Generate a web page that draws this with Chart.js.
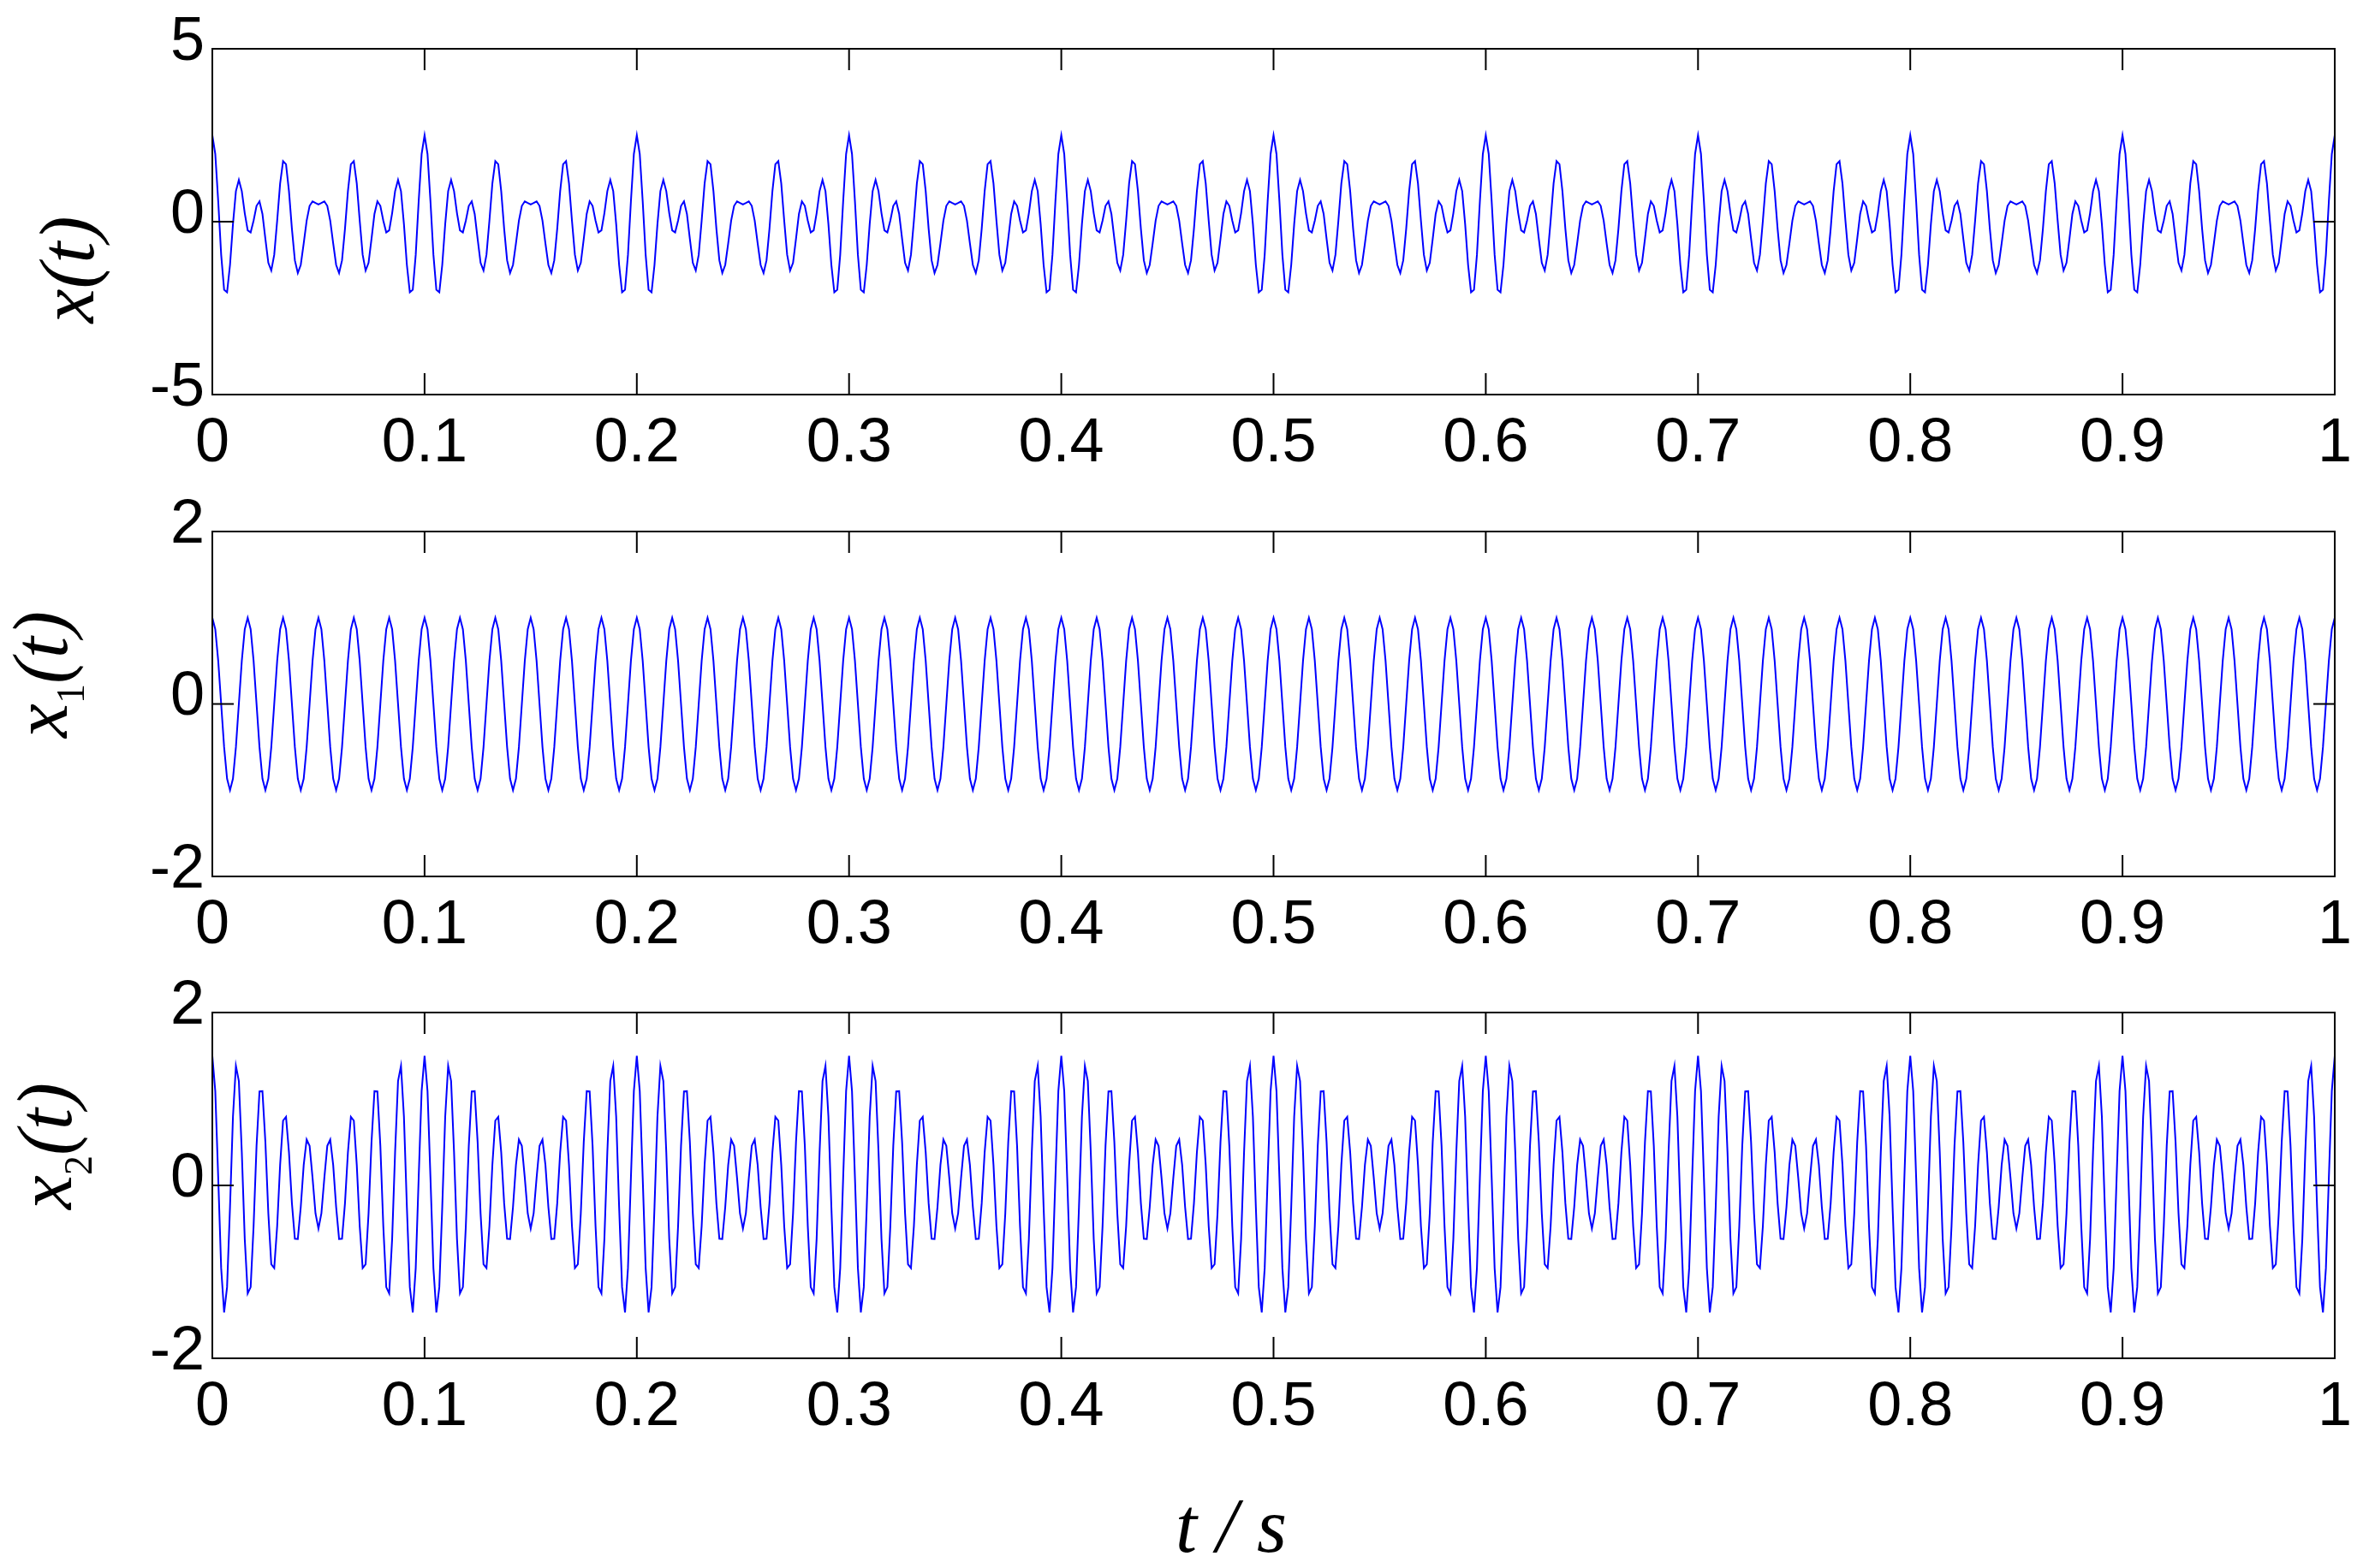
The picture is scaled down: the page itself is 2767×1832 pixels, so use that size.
<!DOCTYPE html>
<html>
<head>
<meta charset="utf-8">
<script src="https://cdn.jsdelivr.net/npm/chart.js@4.4.1/dist/chart.umd.min.js"></script>
<style>
  html, body { margin: 0; padding: 0; background: #fff; }
  body { width: 2767px; height: 1832px; position: relative; overflow: hidden; }
  canvas { position: absolute; left: 0; }
</style>
</head>
<body>
<canvas id="c0"></canvas>
<canvas id="c1"></canvas>
<canvas id="c2"></canvas>
<script>
// samples, 720 samples per second, t = 0 ... 1 s
const FS = 720;

const x = [
  2.5,1.956,0.587,-0.957,-1.97,-2.043,-1.25,-0.072,0.883,1.207,0.883,0.246,-0.25,-0.311,0.03,0.457,0.587,0.224,-0.5,-1.19,-1.413,-0.957,0.03,1.103,1.75,1.66,0.883,-0.207,-1.117,-1.486,-1.25,-0.629,0.03,0.457,0.587,0.542,
  0.5,0.542,0.587,0.457,0.03,-0.629,-1.25,-1.486,-1.117,-0.207,0.883,1.66,1.75,1.103,0.03,-0.957,-1.413,-1.19,-0.5,0.224,0.587,0.457,0.03,-0.311,-0.25,0.246,0.883,1.207,0.883,-0.072,-1.25,-2.043,-1.97,-0.957,0.587,1.956,
  2.5,1.956,0.587,-0.957,-1.97,-2.043,-1.25,-0.072,0.883,1.207,0.883,0.246,-0.25,-0.311,0.03,0.457,0.587,0.224,-0.5,-1.19,-1.413,-0.957,0.03,1.103,1.75,1.66,0.883,-0.207,-1.117,-1.486,-1.25,-0.629,0.03,0.457,0.587,0.542,
  0.5,0.542,0.587,0.457,0.03,-0.629,-1.25,-1.486,-1.117,-0.207,0.883,1.66,1.75,1.103,0.03,-0.957,-1.413,-1.19,-0.5,0.224,0.587,0.457,0.03,-0.311,-0.25,0.246,0.883,1.207,0.883,-0.072,-1.25,-2.043,-1.97,-0.957,0.587,1.956,
  2.5,1.956,0.587,-0.957,-1.97,-2.043,-1.25,-0.072,0.883,1.207,0.883,0.246,-0.25,-0.311,0.03,0.457,0.587,0.224,-0.5,-1.19,-1.413,-0.957,0.03,1.103,1.75,1.66,0.883,-0.207,-1.117,-1.486,-1.25,-0.629,0.03,0.457,0.587,0.542,
  0.5,0.542,0.587,0.457,0.03,-0.629,-1.25,-1.486,-1.117,-0.207,0.883,1.66,1.75,1.103,0.03,-0.957,-1.413,-1.19,-0.5,0.224,0.587,0.457,0.03,-0.311,-0.25,0.246,0.883,1.207,0.883,-0.072,-1.25,-2.043,-1.97,-0.957,0.587,1.956,
  2.5,1.956,0.587,-0.957,-1.97,-2.043,-1.25,-0.072,0.883,1.207,0.883,0.246,-0.25,-0.311,0.03,0.457,0.587,0.224,-0.5,-1.19,-1.413,-0.957,0.03,1.103,1.75,1.66,0.883,-0.207,-1.117,-1.486,-1.25,-0.629,0.03,0.457,0.587,0.542,
  0.5,0.542,0.587,0.457,0.03,-0.629,-1.25,-1.486,-1.117,-0.207,0.883,1.66,1.75,1.103,0.03,-0.957,-1.413,-1.19,-0.5,0.224,0.587,0.457,0.03,-0.311,-0.25,0.246,0.883,1.207,0.883,-0.072,-1.25,-2.043,-1.97,-0.957,0.587,1.956,
  2.5,1.956,0.587,-0.957,-1.97,-2.043,-1.25,-0.072,0.883,1.207,0.883,0.246,-0.25,-0.311,0.03,0.457,0.587,0.224,-0.5,-1.19,-1.413,-0.957,0.03,1.103,1.75,1.66,0.883,-0.207,-1.117,-1.486,-1.25,-0.629,0.03,0.457,0.587,0.542,
  0.5,0.542,0.587,0.457,0.03,-0.629,-1.25,-1.486,-1.117,-0.207,0.883,1.66,1.75,1.103,0.03,-0.957,-1.413,-1.19,-0.5,0.224,0.587,0.457,0.03,-0.311,-0.25,0.246,0.883,1.207,0.883,-0.072,-1.25,-2.043,-1.97,-0.957,0.587,1.956,
  2.5,1.956,0.587,-0.957,-1.97,-2.043,-1.25,-0.072,0.883,1.207,0.883,0.246,-0.25,-0.311,0.03,0.457,0.587,0.224,-0.5,-1.19,-1.413,-0.957,0.03,1.103,1.75,1.66,0.883,-0.207,-1.117,-1.486,-1.25,-0.629,0.03,0.457,0.587,0.542,
  0.5,0.542,0.587,0.457,0.03,-0.629,-1.25,-1.486,-1.117,-0.207,0.883,1.66,1.75,1.103,0.03,-0.957,-1.413,-1.19,-0.5,0.224,0.587,0.457,0.03,-0.311,-0.25,0.246,0.883,1.207,0.883,-0.072,-1.25,-2.043,-1.97,-0.957,0.587,1.956,
  2.5,1.956,0.587,-0.957,-1.97,-2.043,-1.25,-0.072,0.883,1.207,0.883,0.246,-0.25,-0.311,0.03,0.457,0.587,0.224,-0.5,-1.19,-1.413,-0.957,0.03,1.103,1.75,1.66,0.883,-0.207,-1.117,-1.486,-1.25,-0.629,0.03,0.457,0.587,0.542,
  0.5,0.542,0.587,0.457,0.03,-0.629,-1.25,-1.486,-1.117,-0.207,0.883,1.66,1.75,1.103,0.03,-0.957,-1.413,-1.19,-0.5,0.224,0.587,0.457,0.03,-0.311,-0.25,0.246,0.883,1.207,0.883,-0.072,-1.25,-2.043,-1.97,-0.957,0.587,1.956,
  2.5,1.956,0.587,-0.957,-1.97,-2.043,-1.25,-0.072,0.883,1.207,0.883,0.246,-0.25,-0.311,0.03,0.457,0.587,0.224,-0.5,-1.19,-1.413,-0.957,0.03,1.103,1.75,1.66,0.883,-0.207,-1.117,-1.486,-1.25,-0.629,0.03,0.457,0.587,0.542,
  0.5,0.542,0.587,0.457,0.03,-0.629,-1.25,-1.486,-1.117,-0.207,0.883,1.66,1.75,1.103,0.03,-0.957,-1.413,-1.19,-0.5,0.224,0.587,0.457,0.03,-0.311,-0.25,0.246,0.883,1.207,0.883,-0.072,-1.25,-2.043,-1.97,-0.957,0.587,1.956,
  2.5,1.956,0.587,-0.957,-1.97,-2.043,-1.25,-0.072,0.883,1.207,0.883,0.246,-0.25,-0.311,0.03,0.457,0.587,0.224,-0.5,-1.19,-1.413,-0.957,0.03,1.103,1.75,1.66,0.883,-0.207,-1.117,-1.486,-1.25,-0.629,0.03,0.457,0.587,0.542,
  0.5,0.542,0.587,0.457,0.03,-0.629,-1.25,-1.486,-1.117,-0.207,0.883,1.66,1.75,1.103,0.03,-0.957,-1.413,-1.19,-0.5,0.224,0.587,0.457,0.03,-0.311,-0.25,0.246,0.883,1.207,0.883,-0.072,-1.25,-2.043,-1.97,-0.957,0.587,1.956,
  2.5,1.956,0.587,-0.957,-1.97,-2.043,-1.25,-0.072,0.883,1.207,0.883,0.246,-0.25,-0.311,0.03,0.457,0.587,0.224,-0.5,-1.19,-1.413,-0.957,0.03,1.103,1.75,1.66,0.883,-0.207,-1.117,-1.486,-1.25,-0.629,0.03,0.457,0.587,0.542,
  0.5,0.542,0.587,0.457,0.03,-0.629,-1.25,-1.486,-1.117,-0.207,0.883,1.66,1.75,1.103,0.03,-0.957,-1.413,-1.19,-0.5,0.224,0.587,0.457,0.03,-0.311,-0.25,0.246,0.883,1.207,0.883,-0.072,-1.25,-2.043,-1.97,-0.957,0.587,1.956,
  2.5
];

const x1 = [
  1,0.866,0.5,0,-0.5,-0.866,-1,-0.866,-0.5,0,0.5,0.866,1,0.866,0.5,0,-0.5,-0.866,-1,-0.866,-0.5,0,0.5,0.866,1,0.866,0.5,0,-0.5,-0.866,-1,-0.866,-0.5,0,0.5,0.866,
  1,0.866,0.5,0,-0.5,-0.866,-1,-0.866,-0.5,0,0.5,0.866,1,0.866,0.5,0,-0.5,-0.866,-1,-0.866,-0.5,0,0.5,0.866,1,0.866,0.5,0,-0.5,-0.866,-1,-0.866,-0.5,0,0.5,0.866,
  1,0.866,0.5,0,-0.5,-0.866,-1,-0.866,-0.5,0,0.5,0.866,1,0.866,0.5,0,-0.5,-0.866,-1,-0.866,-0.5,0,0.5,0.866,1,0.866,0.5,0,-0.5,-0.866,-1,-0.866,-0.5,0,0.5,0.866,
  1,0.866,0.5,0,-0.5,-0.866,-1,-0.866,-0.5,0,0.5,0.866,1,0.866,0.5,0,-0.5,-0.866,-1,-0.866,-0.5,0,0.5,0.866,1,0.866,0.5,0,-0.5,-0.866,-1,-0.866,-0.5,0,0.5,0.866,
  1,0.866,0.5,0,-0.5,-0.866,-1,-0.866,-0.5,0,0.5,0.866,1,0.866,0.5,0,-0.5,-0.866,-1,-0.866,-0.5,0,0.5,0.866,1,0.866,0.5,0,-0.5,-0.866,-1,-0.866,-0.5,0,0.5,0.866,
  1,0.866,0.5,0,-0.5,-0.866,-1,-0.866,-0.5,0,0.5,0.866,1,0.866,0.5,0,-0.5,-0.866,-1,-0.866,-0.5,0,0.5,0.866,1,0.866,0.5,0,-0.5,-0.866,-1,-0.866,-0.5,0,0.5,0.866,
  1,0.866,0.5,0,-0.5,-0.866,-1,-0.866,-0.5,0,0.5,0.866,1,0.866,0.5,0,-0.5,-0.866,-1,-0.866,-0.5,0,0.5,0.866,1,0.866,0.5,0,-0.5,-0.866,-1,-0.866,-0.5,0,0.5,0.866,
  1,0.866,0.5,0,-0.5,-0.866,-1,-0.866,-0.5,0,0.5,0.866,1,0.866,0.5,0,-0.5,-0.866,-1,-0.866,-0.5,0,0.5,0.866,1,0.866,0.5,0,-0.5,-0.866,-1,-0.866,-0.5,0,0.5,0.866,
  1,0.866,0.5,0,-0.5,-0.866,-1,-0.866,-0.5,0,0.5,0.866,1,0.866,0.5,0,-0.5,-0.866,-1,-0.866,-0.5,0,0.5,0.866,1,0.866,0.5,0,-0.5,-0.866,-1,-0.866,-0.5,0,0.5,0.866,
  1,0.866,0.5,0,-0.5,-0.866,-1,-0.866,-0.5,0,0.5,0.866,1,0.866,0.5,0,-0.5,-0.866,-1,-0.866,-0.5,0,0.5,0.866,1,0.866,0.5,0,-0.5,-0.866,-1,-0.866,-0.5,0,0.5,0.866,
  1,0.866,0.5,0,-0.5,-0.866,-1,-0.866,-0.5,0,0.5,0.866,1,0.866,0.5,0,-0.5,-0.866,-1,-0.866,-0.5,0,0.5,0.866,1,0.866,0.5,0,-0.5,-0.866,-1,-0.866,-0.5,0,0.5,0.866,
  1,0.866,0.5,0,-0.5,-0.866,-1,-0.866,-0.5,0,0.5,0.866,1,0.866,0.5,0,-0.5,-0.866,-1,-0.866,-0.5,0,0.5,0.866,1,0.866,0.5,0,-0.5,-0.866,-1,-0.866,-0.5,0,0.5,0.866,
  1,0.866,0.5,0,-0.5,-0.866,-1,-0.866,-0.5,0,0.5,0.866,1,0.866,0.5,0,-0.5,-0.866,-1,-0.866,-0.5,0,0.5,0.866,1,0.866,0.5,0,-0.5,-0.866,-1,-0.866,-0.5,0,0.5,0.866,
  1,0.866,0.5,0,-0.5,-0.866,-1,-0.866,-0.5,0,0.5,0.866,1,0.866,0.5,0,-0.5,-0.866,-1,-0.866,-0.5,0,0.5,0.866,1,0.866,0.5,0,-0.5,-0.866,-1,-0.866,-0.5,0,0.5,0.866,
  1,0.866,0.5,0,-0.5,-0.866,-1,-0.866,-0.5,0,0.5,0.866,1,0.866,0.5,0,-0.5,-0.866,-1,-0.866,-0.5,0,0.5,0.866,1,0.866,0.5,0,-0.5,-0.866,-1,-0.866,-0.5,0,0.5,0.866,
  1,0.866,0.5,0,-0.5,-0.866,-1,-0.866,-0.5,0,0.5,0.866,1,0.866,0.5,0,-0.5,-0.866,-1,-0.866,-0.5,0,0.5,0.866,1,0.866,0.5,0,-0.5,-0.866,-1,-0.866,-0.5,0,0.5,0.866,
  1,0.866,0.5,0,-0.5,-0.866,-1,-0.866,-0.5,0,0.5,0.866,1,0.866,0.5,0,-0.5,-0.866,-1,-0.866,-0.5,0,0.5,0.866,1,0.866,0.5,0,-0.5,-0.866,-1,-0.866,-0.5,0,0.5,0.866,
  1,0.866,0.5,0,-0.5,-0.866,-1,-0.866,-0.5,0,0.5,0.866,1,0.866,0.5,0,-0.5,-0.866,-1,-0.866,-0.5,0,0.5,0.866,1,0.866,0.5,0,-0.5,-0.866,-1,-0.866,-0.5,0,0.5,0.866,
  1,0.866,0.5,0,-0.5,-0.866,-1,-0.866,-0.5,0,0.5,0.866,1,0.866,0.5,0,-0.5,-0.866,-1,-0.866,-0.5,0,0.5,0.866,1,0.866,0.5,0,-0.5,-0.866,-1,-0.866,-0.5,0,0.5,0.866,
  1,0.866,0.5,0,-0.5,-0.866,-1,-0.866,-0.5,0,0.5,0.866,1,0.866,0.5,0,-0.5,-0.866,-1,-0.866,-0.5,0,0.5,0.866,1,0.866,0.5,0,-0.5,-0.866,-1,-0.866,-0.5,0,0.5,0.866,
  1
];

const x2 = [
  1.5,1.09,0.087,-0.957,-1.47,-1.177,-0.25,0.794,1.383,1.207,0.383,-0.62,-1.25,-1.177,-0.47,0.457,1.087,1.09,0.5,-0.324,-0.913,-0.957,-0.47,0.237,0.75,0.794,0.383,-0.207,-0.617,-0.62,-0.25,0.237,0.53,0.457,0.087,-0.324,
  -0.5,-0.324,0.087,0.457,0.53,0.237,-0.25,-0.62,-0.617,-0.207,0.383,0.794,0.75,0.237,-0.47,-0.957,-0.913,-0.324,0.5,1.09,1.087,0.457,-0.47,-1.177,-1.25,-0.62,0.383,1.207,1.383,0.794,-0.25,-1.177,-1.47,-0.957,0.087,1.09,
  1.5,1.09,0.087,-0.957,-1.47,-1.177,-0.25,0.794,1.383,1.207,0.383,-0.62,-1.25,-1.177,-0.47,0.457,1.087,1.09,0.5,-0.324,-0.913,-0.957,-0.47,0.237,0.75,0.794,0.383,-0.207,-0.617,-0.62,-0.25,0.237,0.53,0.457,0.087,-0.324,
  -0.5,-0.324,0.087,0.457,0.53,0.237,-0.25,-0.62,-0.617,-0.207,0.383,0.794,0.75,0.237,-0.47,-0.957,-0.913,-0.324,0.5,1.09,1.087,0.457,-0.47,-1.177,-1.25,-0.62,0.383,1.207,1.383,0.794,-0.25,-1.177,-1.47,-0.957,0.087,1.09,
  1.5,1.09,0.087,-0.957,-1.47,-1.177,-0.25,0.794,1.383,1.207,0.383,-0.62,-1.25,-1.177,-0.47,0.457,1.087,1.09,0.5,-0.324,-0.913,-0.957,-0.47,0.237,0.75,0.794,0.383,-0.207,-0.617,-0.62,-0.25,0.237,0.53,0.457,0.087,-0.324,
  -0.5,-0.324,0.087,0.457,0.53,0.237,-0.25,-0.62,-0.617,-0.207,0.383,0.794,0.75,0.237,-0.47,-0.957,-0.913,-0.324,0.5,1.09,1.087,0.457,-0.47,-1.177,-1.25,-0.62,0.383,1.207,1.383,0.794,-0.25,-1.177,-1.47,-0.957,0.087,1.09,
  1.5,1.09,0.087,-0.957,-1.47,-1.177,-0.25,0.794,1.383,1.207,0.383,-0.62,-1.25,-1.177,-0.47,0.457,1.087,1.09,0.5,-0.324,-0.913,-0.957,-0.47,0.237,0.75,0.794,0.383,-0.207,-0.617,-0.62,-0.25,0.237,0.53,0.457,0.087,-0.324,
  -0.5,-0.324,0.087,0.457,0.53,0.237,-0.25,-0.62,-0.617,-0.207,0.383,0.794,0.75,0.237,-0.47,-0.957,-0.913,-0.324,0.5,1.09,1.087,0.457,-0.47,-1.177,-1.25,-0.62,0.383,1.207,1.383,0.794,-0.25,-1.177,-1.47,-0.957,0.087,1.09,
  1.5,1.09,0.087,-0.957,-1.47,-1.177,-0.25,0.794,1.383,1.207,0.383,-0.62,-1.25,-1.177,-0.47,0.457,1.087,1.09,0.5,-0.324,-0.913,-0.957,-0.47,0.237,0.75,0.794,0.383,-0.207,-0.617,-0.62,-0.25,0.237,0.53,0.457,0.087,-0.324,
  -0.5,-0.324,0.087,0.457,0.53,0.237,-0.25,-0.62,-0.617,-0.207,0.383,0.794,0.75,0.237,-0.47,-0.957,-0.913,-0.324,0.5,1.09,1.087,0.457,-0.47,-1.177,-1.25,-0.62,0.383,1.207,1.383,0.794,-0.25,-1.177,-1.47,-0.957,0.087,1.09,
  1.5,1.09,0.087,-0.957,-1.47,-1.177,-0.25,0.794,1.383,1.207,0.383,-0.62,-1.25,-1.177,-0.47,0.457,1.087,1.09,0.5,-0.324,-0.913,-0.957,-0.47,0.237,0.75,0.794,0.383,-0.207,-0.617,-0.62,-0.25,0.237,0.53,0.457,0.087,-0.324,
  -0.5,-0.324,0.087,0.457,0.53,0.237,-0.25,-0.62,-0.617,-0.207,0.383,0.794,0.75,0.237,-0.47,-0.957,-0.913,-0.324,0.5,1.09,1.087,0.457,-0.47,-1.177,-1.25,-0.62,0.383,1.207,1.383,0.794,-0.25,-1.177,-1.47,-0.957,0.087,1.09,
  1.5,1.09,0.087,-0.957,-1.47,-1.177,-0.25,0.794,1.383,1.207,0.383,-0.62,-1.25,-1.177,-0.47,0.457,1.087,1.09,0.5,-0.324,-0.913,-0.957,-0.47,0.237,0.75,0.794,0.383,-0.207,-0.617,-0.62,-0.25,0.237,0.53,0.457,0.087,-0.324,
  -0.5,-0.324,0.087,0.457,0.53,0.237,-0.25,-0.62,-0.617,-0.207,0.383,0.794,0.75,0.237,-0.47,-0.957,-0.913,-0.324,0.5,1.09,1.087,0.457,-0.47,-1.177,-1.25,-0.62,0.383,1.207,1.383,0.794,-0.25,-1.177,-1.47,-0.957,0.087,1.09,
  1.5,1.09,0.087,-0.957,-1.47,-1.177,-0.25,0.794,1.383,1.207,0.383,-0.62,-1.25,-1.177,-0.47,0.457,1.087,1.09,0.5,-0.324,-0.913,-0.957,-0.47,0.237,0.75,0.794,0.383,-0.207,-0.617,-0.62,-0.25,0.237,0.53,0.457,0.087,-0.324,
  -0.5,-0.324,0.087,0.457,0.53,0.237,-0.25,-0.62,-0.617,-0.207,0.383,0.794,0.75,0.237,-0.47,-0.957,-0.913,-0.324,0.5,1.09,1.087,0.457,-0.47,-1.177,-1.25,-0.62,0.383,1.207,1.383,0.794,-0.25,-1.177,-1.47,-0.957,0.087,1.09,
  1.5,1.09,0.087,-0.957,-1.47,-1.177,-0.25,0.794,1.383,1.207,0.383,-0.62,-1.25,-1.177,-0.47,0.457,1.087,1.09,0.5,-0.324,-0.913,-0.957,-0.47,0.237,0.75,0.794,0.383,-0.207,-0.617,-0.62,-0.25,0.237,0.53,0.457,0.087,-0.324,
  -0.5,-0.324,0.087,0.457,0.53,0.237,-0.25,-0.62,-0.617,-0.207,0.383,0.794,0.75,0.237,-0.47,-0.957,-0.913,-0.324,0.5,1.09,1.087,0.457,-0.47,-1.177,-1.25,-0.62,0.383,1.207,1.383,0.794,-0.25,-1.177,-1.47,-0.957,0.087,1.09,
  1.5,1.09,0.087,-0.957,-1.47,-1.177,-0.25,0.794,1.383,1.207,0.383,-0.62,-1.25,-1.177,-0.47,0.457,1.087,1.09,0.5,-0.324,-0.913,-0.957,-0.47,0.237,0.75,0.794,0.383,-0.207,-0.617,-0.62,-0.25,0.237,0.53,0.457,0.087,-0.324,
  -0.5,-0.324,0.087,0.457,0.53,0.237,-0.25,-0.62,-0.617,-0.207,0.383,0.794,0.75,0.237,-0.47,-0.957,-0.913,-0.324,0.5,1.09,1.087,0.457,-0.47,-1.177,-1.25,-0.62,0.383,1.207,1.383,0.794,-0.25,-1.177,-1.47,-0.957,0.087,1.09,
  1.5
];

const tTicks = [0, 0.1, 0.2, 0.3, 0.4, 0.5, 0.6, 0.7, 0.8, 0.9, 1];
const tTickLabels = ['0', '0.1', '0.2', '0.3', '0.4', '0.5', '0.6', '0.7', '0.8', '0.9', '1'];
const xTicks = [-5, 0, 5];
const x1Ticks = [-2, 0, 2];
const x2Ticks = [-2, 0, 2];

// layout (page pixels)
const W = 2767;
const TICK = 25;
const PAD_TOP = 56;
const SERIF = '"Liberation Serif", "Times New Roman", serif';
const SANS = '"Liberation Sans", Arial, sans-serif';

const panels = [
  { id: 'c0', series: x,  yTicks: xTicks,  top: 1,    height: 580, padBottom: 0,
    ylabel: [['x', 0], ['(t)', 0]], labelX: 109, labelY: 315 },
  { id: 'c1', series: x1, yTicks: x1Ticks, top: 565,  height: 579, padBottom: 0,
    ylabel: [['x', 0], ['1', 20], ['(t)', 0]], labelX: 78, labelY: 788 },
  { id: 'c2', series: x2, yTicks: x2Ticks, top: 1127, height: 705, padBottom: 125,
    ylabel: [['x', 0], ['2', 24], ['(t)', 0]], labelX: 83, labelY: 1339, xlabel: true }
];

const boxPlugin = {
  id: 'box',
  afterDatasetsDraw(chart, args, opts) {
    const { ctx, chartArea: a, scales } = chart;
    ctx.save();
    ctx.strokeStyle = '#000';
    ctx.lineWidth = 2;
    ctx.beginPath();
    scales.x.ticks.forEach(tk => {
      const px = scales.x.getPixelForValue(tk.value);
      ctx.moveTo(px, a.top); ctx.lineTo(px, a.top + TICK);
      ctx.moveTo(px, a.bottom); ctx.lineTo(px, a.bottom - TICK);
    });
    scales.y.ticks.forEach(tk => {
      const py = scales.y.getPixelForValue(tk.value);
      ctx.moveTo(a.left, py); ctx.lineTo(a.left + TICK, py);
      ctx.moveTo(a.right, py); ctx.lineTo(a.right - TICK, py);
    });
    ctx.stroke();
    ctx.strokeRect(a.left, a.top, a.right - a.left, a.bottom - a.top);

    // y label, rotated, with an upright subscript where needed
    const p = opts.panel;
    ctx.fillStyle = '#000';
    ctx.translate(p.labelX, p.labelY - p.top);
    ctx.rotate(-Math.PI / 2);
    ctx.textBaseline = 'alphabetic';
    const fontFor = part => part[1] ? '46px ' + SERIF : 'italic 90px ' + SERIF;
    let total = 0;
    p.ylabel.forEach(part => { ctx.font = fontFor(part); total += ctx.measureText(part[0]).width; });
    let cx = -total / 2;
    p.ylabel.forEach(part => {
      ctx.font = fontFor(part);
      ctx.fillText(part[0], cx, part[1]);
      cx += ctx.measureText(part[0]).width;
    });
    ctx.restore();

    if (p.xlabel) {
      ctx.save();
      ctx.fillStyle = '#000';
      ctx.font = 'italic 90px ' + SERIF;
      ctx.textAlign = 'center';
      ctx.textBaseline = 'alphabetic';
      ctx.fillText('t / s', 1438, 1813 - p.top);
      ctx.restore();
    }
  }
};

panels.forEach(p => {
  const cv = document.getElementById(p.id);
  cv.width = W;
  cv.height = p.height;
  cv.style.top = p.top + 'px';
  const pts = p.series.map((v, i) => ({ x: i / FS, y: v }));
  new Chart(cv, {
    type: 'line',
    data: {
      datasets: [{
        data: pts,
        borderColor: '#0000ff',
        borderWidth: 2,
        pointRadius: 0,
        tension: 0,
        fill: false
      }]
    },
    options: {
      responsive: false,
      animation: false,
      devicePixelRatio: 1,
      layout: { padding: { left: 48, right: 40, top: PAD_TOP, bottom: p.padBottom } },
      plugins: { legend: { display: false }, tooltip: { enabled: false }, box: { panel: p } },
      scales: {
        x: {
          type: 'linear',
          min: 0, max: 1,
          afterBuildTicks: s => { s.ticks = tTicks.map(v => ({ value: v })); },
          afterFit: s => { s.height = 120; },
          grid: { display: false, drawTicks: false },
          border: { display: false },
          ticks: {
            padding: 15,
            maxRotation: 0,
            autoSkip: false,
            color: '#000',
            font: { family: SANS, size: 72 },
            callback: (v, i) => tTickLabels[i]
          }
        },
        y: {
          type: 'linear',
          min: p.yTicks[0], max: p.yTicks[p.yTicks.length - 1],
          afterBuildTicks: s => { s.ticks = p.yTicks.map(v => ({ value: v })); },
          afterFit: s => { s.width = 200; },
          grid: { display: false, drawTicks: false },
          border: { display: false },
          ticks: {
            padding: 9,
            labelOffset: -7,
            color: '#000',
            font: { family: SANS, size: 72 },
            callback: v => String(v)
          }
        }
      }
    },
    plugins: [boxPlugin]
  });
});
</script>
</body>
</html>
